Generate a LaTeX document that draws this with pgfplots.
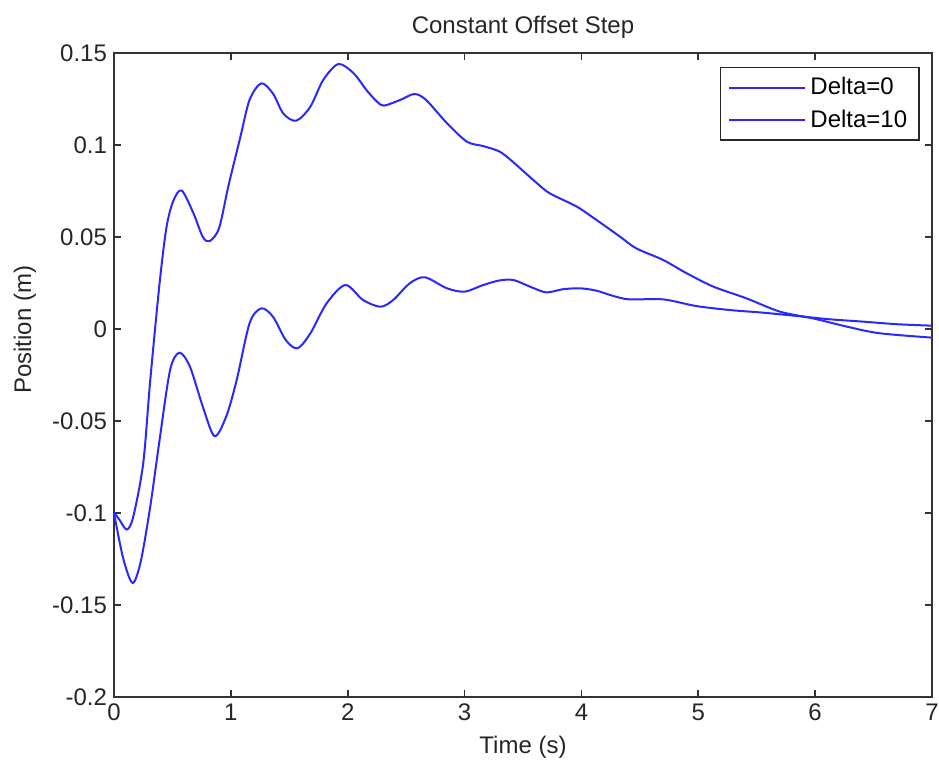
\documentclass[border=0pt]{standalone}
\usepackage{pgfplots}
\pgfplotsset{compat=1.18}
\usepackage{fontspec}
\setmainfont{Liberation Sans}
\definecolor{mblue}{RGB}{40,40,255}

\pgfplotstableread{
t      y
0.00  -0.0995
0.05  -0.1040
0.11  -0.1090
0.165 -0.1020
0.25  -0.0730
0.31  -0.0280
0.39   0.0248
0.45   0.0556
0.51   0.0700
0.58   0.0752
0.68   0.0629
0.76   0.0500
0.82   0.0478
0.90   0.0550
0.98   0.0780
1.08   0.1040
1.16   0.1245
1.26   0.1335
1.36   0.1280
1.45   0.1170
1.56   0.1132
1.68   0.1208
1.79   0.1353
1.92   0.1440
2.05   0.1390
2.16   0.1299
2.25   0.1236
2.31   0.1214
2.45   0.1245
2.57   0.1277
2.67   0.1245
2.85   0.1118
3.02   0.1018
3.16   0.0994
3.30   0.0964
3.41   0.0910
3.62   0.0792
3.73   0.0737
3.96   0.0665
4.13   0.0592
4.33   0.0502
4.47   0.0438
4.70   0.0375
4.90   0.0303
5.13   0.0230
5.41   0.0167
5.70   0.0094
5.98   0.0058
6.27   0.0013
6.55  -0.0023
7.00  -0.0047
}\deltazero

\pgfplotstableread{
t      y
0.00  -0.1000
0.08  -0.1250
0.16  -0.1380
0.23  -0.1260
0.31  -0.0966
0.39  -0.0603
0.48  -0.0223
0.56  -0.0129
0.65  -0.0205
0.76  -0.0422
0.86  -0.0582
0.96  -0.0476
1.05  -0.0277
1.16   0.0031
1.26   0.0112
1.36   0.0067
1.47  -0.0060
1.57  -0.0105
1.68  -0.0024
1.82   0.0140
1.98   0.0239
2.13   0.0158
2.28   0.0121
2.39   0.0158
2.53   0.0248
2.66   0.0281
2.85   0.0221
3.00   0.0203
3.16   0.0239
3.30   0.0264
3.42   0.0266
3.56   0.0230
3.70   0.0199
3.84   0.0216
3.99   0.0221
4.13   0.0208
4.27   0.0180
4.41   0.0161
4.70   0.0161
4.98   0.0125
5.27   0.0103
5.55   0.0089
5.84   0.0071
6.12   0.0053
6.41   0.0040
6.70   0.0026
7.00   0.0018
}\deltaten

\begin{document}
\begin{tikzpicture}
\begin{axis}[
    width=409pt, height=322pt, scale only axis,
    xmin=0, xmax=7, ymin=-0.2, ymax=0.15,
    xtick={0,1,2,3,4,5,6,7},
    xticklabels={0,1,2,3,4,5,6,7},
    ytick={-0.2,-0.15,-0.1,-0.05,0,0.05,0.1,0.15},
    yticklabels={-0.2,-0.15,-0.1,-0.05,0,0.05,0.1,0.15},
    tick align=inside,
    major tick length=3.5pt,
    axis line style={black!80, line width=0.9pt},
    every tick/.style={black!80, line width=0.8pt},
    font=\fontsize{12}{14}\selectfont,
    ticklabel style={font=\fontsize{12}{14}\selectfont, text=black!85},
    every axis title shift=0pt,
    title={Constant Offset Step},
    title style={at={(axis description cs:0.5,1.040)}, anchor=center, text=black!85},
    xlabel={Time (s)},
    xlabel style={at={(axis description cs:0.5,-0.0776)}, anchor=center, text=black!85},
    ylabel={Position (m)},
    ylabel style={at={(axis description cs:-0.109,0.57)}, anchor=center, text=black!85},
    legend style={at={(axis description cs:0.9853,0.9787)}, anchor=north east,
        draw=black!85, line width=0.8pt, font=\fontsize{12}{14}\selectfont,
        inner xsep=4pt, inner ysep=3pt, row sep=2pt},
    legend image code/.code={\draw[#1, line width=1pt] (0pt,0pt) -- (38pt,0pt);},
    legend cell align=left,
]
\addplot[mblue, line width=1pt, smooth, tension=0.5] table[x=t, y=y] {\deltazero};
\addplot[mblue, line width=1pt, smooth, tension=0.5] table[x=t, y=y] {\deltaten};
\legend{Delta=0, Delta=10}
\coordinate (sw) at (rel axis cs:0,0);
\coordinate (ne) at (rel axis cs:1,1);
\end{axis}
\pgfresetboundingbox
\path[use as bounding box] ([shift={(-57pt,-36pt)}]sw) rectangle ([shift={(3.5pt,26.5pt)}]ne);
\end{tikzpicture}
\end{document}
